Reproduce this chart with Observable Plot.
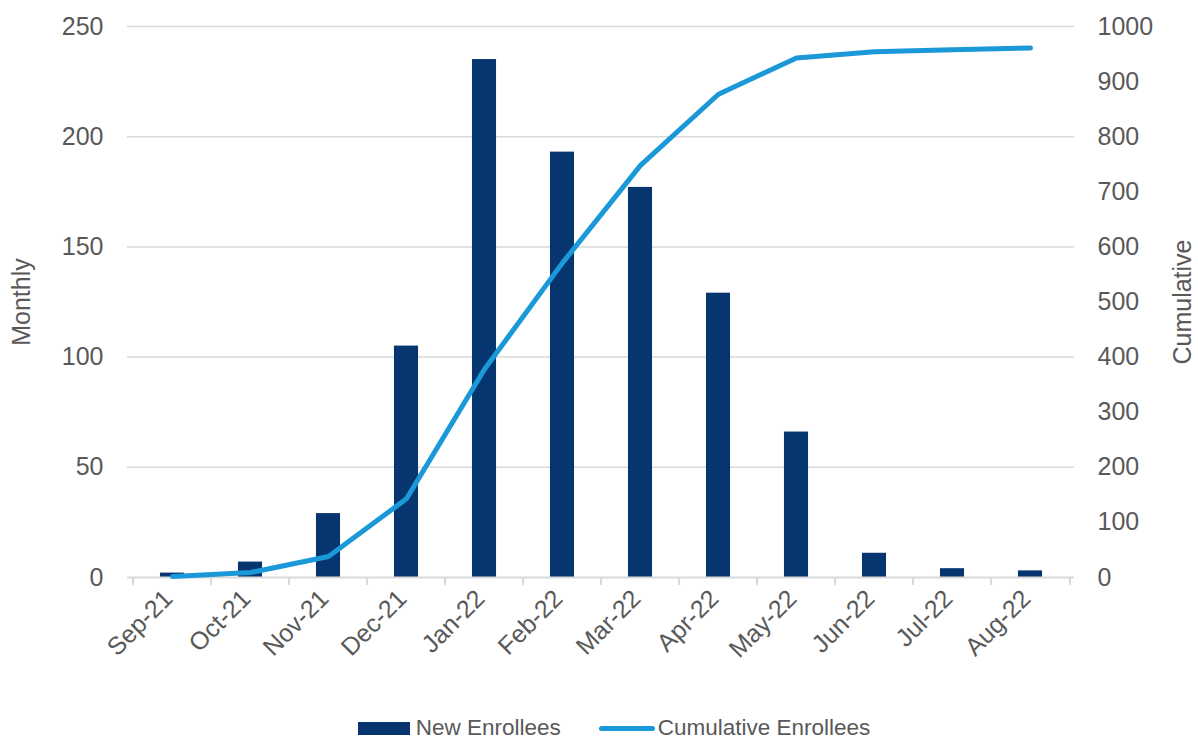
<!DOCTYPE html>
<html>
<head>
<meta charset="utf-8">
<script src="https://cdn.jsdelivr.net/npm/d3@7"></script>
<script src="https://cdn.jsdelivr.net/npm/@observablehq/plot@0.6"></script>
<style>
  body { margin: 0; background: #fff; font-family: "Liberation Sans", Arial, sans-serif; }
  #chart { position: relative; width: 1198px; height: 741px; }
  .legend { position: absolute; top: 715px; left: 0; width: 1198px; padding-left: 30px; box-sizing: border-box; display: flex; justify-content: center; align-items: center; font-size: 22.5px; color: #595959; }
  .legend .item { display: flex; align-items: center; }
  .legend .swatch-bar { width: 52px; height: 13px; background: #06356f; margin-right: 6px; }
  .legend .swatch-line { width: 56px; height: 5px; border-radius: 3px; background: #1b98d8; margin-right: 3px; }
</style>
</head>
<body>
<div id="chart"></div>
<script>
const months = ["Sep-21","Oct-21","Nov-21","Dec-21","Jan-22","Feb-22","Mar-22","Apr-22","May-22","Jun-22","Jul-22","Aug-22"];
const newEnrollees = [2, 7, 29, 105, 235, 193, 177, 129, 66, 11, 4, 3];
const cumulativeEnrollees = [2, 9, 38, 143, 378, 571, 748, 877, 943, 954, 958, 961];
const leftTicks = [0, 50, 100, 150, 200, 250];
const rightTicks = [0, 100, 200, 300, 400, 500, 600, 700, 800, 900, 1000];

const ratio = 4; // right axis max 1000 / left axis max 250
const data = months.map((m, i) => ({month: m, monthly: newEnrollees[i], cum: cumulativeEnrollees[i]}));

const W = 1198, H = 705, ML = 127, MR = 124;
const step = (W - ML - MR) / months.length;

const plot = Plot.plot({
  width: W,
  height: H,
  marginLeft: ML,
  marginRight: MR,
  marginTop: 26,
  marginBottom: H - 577,
  style: {fontFamily: "'Liberation Sans', Arial, sans-serif", color: "#595959", background: "#fff"},
  x: {domain: months, padding: 0, label: null},
  y: {domain: [0, 250], label: null},
  marks: [
    Plot.ruleY(leftTicks.filter(d => d > 0), {stroke: "#d9d9d9", strokeWidth: 1.5}),
    Plot.barY(data, {x: "month", y: "monthly", fill: "#06356f", insetLeft: (step - 25) / 2, insetRight: (step - 25) / 2}),
    Plot.ruleY([0], {stroke: "#d9d9d9", strokeWidth: 2}),
    Plot.ruleX(months, {x: d => d, y1: 0, y2: -3.6, dx: -step / 2, stroke: "#d9d9d9", strokeWidth: 2}),
    Plot.ruleX(months.slice(-1), {x: d => d, y1: 0, y2: -3.6, dx: step / 2, stroke: "#d9d9d9", strokeWidth: 2}),
    Plot.line(data, {x: "month", y: d => d.cum / ratio, stroke: "#1b98d8", strokeWidth: 5, strokeLinejoin: "round", strokeLinecap: "round"}),
    Plot.axisY(leftTicks, {anchor: "left", tickSize: 0, tickPadding: 24, fontSize: 25, fill: "#595959", label: null}),
    Plot.axisY(rightTicks.map(d => d / ratio), {anchor: "right", tickSize: 0, tickPadding: 23, fontSize: 25, fill: "#595959", tickFormat: d => String(Math.round(d * ratio)), label: null}),
    Plot.axisX({tickSize: 0, tickRotate: -45, tickPadding: 17, fontSize: 25, fill: "#595959", label: null, dx: -4}),
    Plot.text(["Monthly"], {frameAnchor: "left", textAnchor: "middle", dx: -106, rotate: -90, fontSize: 25, fill: "#595959"}),
    Plot.text(["Cumulative"], {frameAnchor: "right", textAnchor: "middle", dx: 108, rotate: -90, fontSize: 25, fill: "#595959"})
  ]
});

const chart = document.getElementById("chart");
chart.appendChild(plot);

const legend = document.createElement("div");
legend.className = "legend";
legend.innerHTML = `
  <div class="item" style="margin-right:38px"><div class="swatch-bar"></div><span>New Enrollees</span></div>
  <div class="item"><div class="swatch-line"></div><span>Cumulative Enrollees</span></div>`;
chart.appendChild(legend);
</script>
</body>
</html>
